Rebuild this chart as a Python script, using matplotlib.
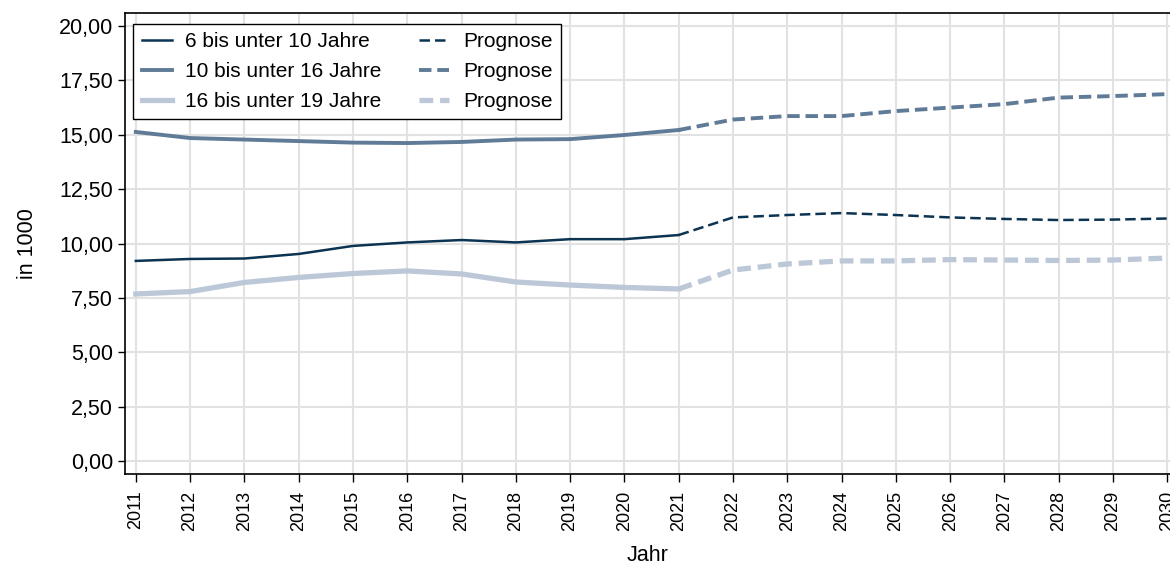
import matplotlib.pyplot as plt
from matplotlib.ticker import FuncFormatter

plt.rcParams['font.family'] = ['Liberation Sans', 'DejaVu Sans']

# Daten (in 1000)
jahre = list(range(2011, 2031))
alter_6_10 = [9.20, 9.29, 9.31, 9.52, 9.89, 10.05, 10.16, 10.05, 10.20, 10.20, 10.39,
              11.20, 11.31, 11.40, 11.31, 11.20, 11.13, 11.08, 11.10, 11.15]
alter_10_16 = [15.13, 14.85, 14.78, 14.71, 14.64, 14.62, 14.67, 14.78, 14.80, 14.99, 15.22,
               15.70, 15.86, 15.86, 16.09, 16.25, 16.41, 16.71, 16.78, 16.87]
alter_16_19 = [7.68, 7.79, 8.21, 8.44, 8.62, 8.74, 8.60, 8.23, 8.09, 7.98, 7.91,
               8.78, 9.06, 9.20, 9.20, 9.26, 9.24, 9.22, 9.24, 9.33]
namen = ['6 bis unter 10 Jahre', '10 bis unter 16 Jahre', '16 bis unter 19 Jahre']
farben = ['#0b3352', '#5f7b97', '#bcc8d7']
breiten = [1.8, 2.8, 3.8]
striche = [(0, (4.2, 2.0)), (0, (3.2, 1.5)), (0, (2.6, 1.3))]
letztes_ist = 2021  # danach Prognose

fig = plt.figure(figsize=(11.7, 5.65), dpi=100)
ax = fig.add_axes([0.1068, 0.161, 0.8932, 0.816])

n_ist = jahre.index(letztes_ist) + 1
serien = [alter_6_10, alter_10_16, alter_16_19]
linien_ist = []
linien_prog = []
for werte, name, farbe, lw, ls in zip(serien, namen, farben, breiten, striche):
    l1, = ax.plot(jahre[:n_ist], werte[:n_ist], color=farbe, lw=lw, label=name)
    l2, = ax.plot(jahre[n_ist - 1:], werte[n_ist - 1:], color=farbe, lw=lw,
                  ls=ls, label='Prognose')
    linien_ist.append(l1)
    linien_prog.append(l2)

ax.set_xlim(2010.8, 2030.05)
ax.set_ylim(-0.6, 20.6)
ax.set_xticks(jahre)
ax.set_xticklabels([str(j) for j in jahre], rotation=90, fontsize=13)
ax.set_yticks([0, 2.5, 5, 7.5, 10, 12.5, 15, 17.5, 20])
ax.yaxis.set_major_formatter(FuncFormatter(lambda v, p: f'{v:.2f}'.replace('.', ',')))
ax.tick_params(axis='y', labelsize=15.5, length=5, width=1)
ax.tick_params(axis='x', length=6, width=1, pad=6)
ax.grid(True, color='#e2e2e2', lw=1.5)
ax.set_axisbelow(True)
for s in ['left', 'bottom', 'top']:
    ax.spines[s].set_linewidth(1.2)
ax.spines['right'].set_visible(False)

ax.set_ylabel('in 1000', fontsize=15.5, labelpad=15)
ax.set_xlabel('Jahr', fontsize=15.5, labelpad=10)

leg = ax.legend(linien_ist + linien_prog, namen + ['Prognose'] * 3, ncol=2,
                loc='upper left', bbox_to_anchor=(0.004, 0.985), fontsize=15,
                fancybox=False, framealpha=1, edgecolor='black', handlelength=1.45,
                handletextpad=0.65, columnspacing=1.8, borderpad=0.4, labelspacing=0.52,
                borderaxespad=0.2)
leg.get_frame().set_linewidth(1.0)

plt.savefig('out.png', dpi=100)
